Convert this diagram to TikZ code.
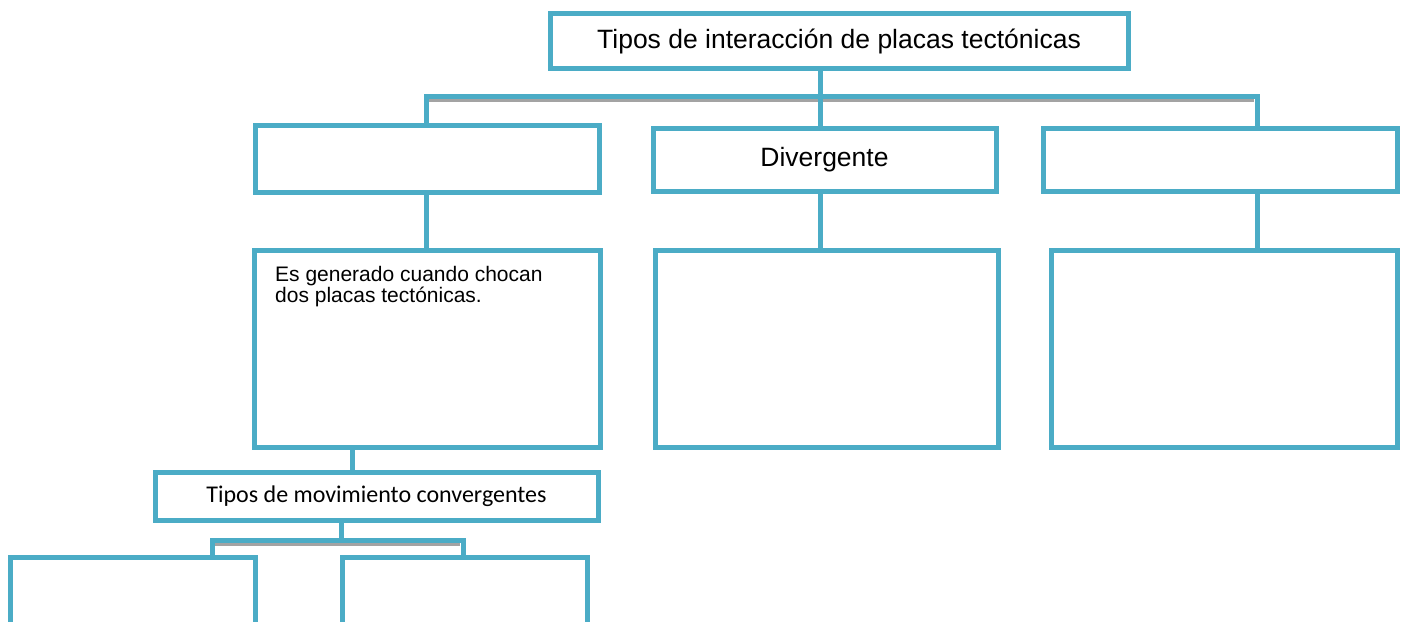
\documentclass[tikz,border=0pt]{standalone}
\usepackage{fontspec}
\setmainfont{Liberation Sans}
\newfontfamily\calibrifont{Carlito}
\usepackage{xcolor}
\definecolor{mapblue}{HTML}{4BACC6}
\definecolor{mapshadow}{HTML}{A3A3A3}
\usepackage{tikz}

\begin{document}
\begin{tikzpicture}[
        x=1pt, y=-1pt,
        mapbox/.style={rectangle, draw=mapblue, line width=5pt, fill=white, inner sep=0pt, font=\fontsize{26.5}{30}\selectfont},
        link/.style={draw=mapblue, line width=5pt},
        barshadow/.style={draw=mapshadow, line width=3.5pt}
    ]
        \useasboundingbox (0,0) rectangle (1410,621);
        \clip (0,0) rectangle (1410,621);

        % Title
        \node[mapbox, minimum width=578pt, minimum height=55pt] (title) at (839,41) {Tipos de interacción de placas tectónicas};

        % Second row
        \node[mapbox, minimum width=344pt, minimum height=67pt] (conv) at (427,158.5) {};
        \node[mapbox, minimum width=343pt, minimum height=63pt] (div) at (824.5,159.5) {Divergente};
        \node[mapbox, minimum width=354pt, minimum height=63pt] (trans) at (1220,159.5) {};

        % Third row
        \node[mapbox, minimum width=346pt, minimum height=197pt] (convdesc) at (427,348.5) {};
        \node[anchor=north west, align=left, inner sep=0pt, font=\fontsize{21}{21.5}\selectfont] (convtext) at (275,266) {Es generado cuando chocan\\dos placas tectónicas.};
        \node[mapbox, minimum width=343pt, minimum height=197pt] (divdesc) at (826.5,348.5) {};
        \node[mapbox, minimum width=346pt, minimum height=197pt] (transdesc) at (1224,348.5) {};

        % Convergent movements
        \node[mapbox, minimum width=443pt, minimum height=48pt, font=\calibrifont\fontsize{24}{28}\selectfont] (movtypes) at (376.5,496) {Tipos de movimiento convergentes};
        \node[mapbox, minimum width=245pt, minimum height=163pt] (movleft) at (132.5,638.5) {};
        \node[mapbox, minimum width=245pt, minimum height=163pt] (movright) at (464.5,638.5) {};

        % Junction points
        \coordinate (colA) at (426,96);
        \coordinate (colB) at (820,96);
        \coordinate (colC) at (1257,96);
        \coordinate (colD) at (352,460);
        \coordinate (colE) at (341,540);
        \coordinate (colF) at (212,540);
        \coordinate (colG) at (463,540);

        % Top connectors
        \draw[barshadow] ([xshift=3pt, yshift=-4pt]colA) -- ([xshift=-3pt, yshift=-4pt]colC);
        \draw[link] (colA |- conv.north) -- (colA) -- (colC) -- (colC |- trans.north);
        \draw[link] (colB |- title.south) -- (colB |- div.north);
        \draw[link] (colA |- conv.south) -- (colA |- convdesc.north);
        \draw[link] (colB |- div.south) -- (colB |- divdesc.north);
        \draw[link] (colC |- trans.south) -- (colC |- transdesc.north);

        % Lower connectors
        \draw[link] (colD |- convdesc.south) -- (colD |- movtypes.north);
        \draw[link] (colE |- movtypes.south) -- (colE);
        \draw[barshadow] ([xshift=3pt, yshift=-4pt]colF) -- ([xshift=-3pt, yshift=-4pt]colG);
        \draw[link] (colF |- movleft.north) -- (colF) -- (colG) -- (colG |- movright.north);

    \end{tikzpicture}
\end{document}
